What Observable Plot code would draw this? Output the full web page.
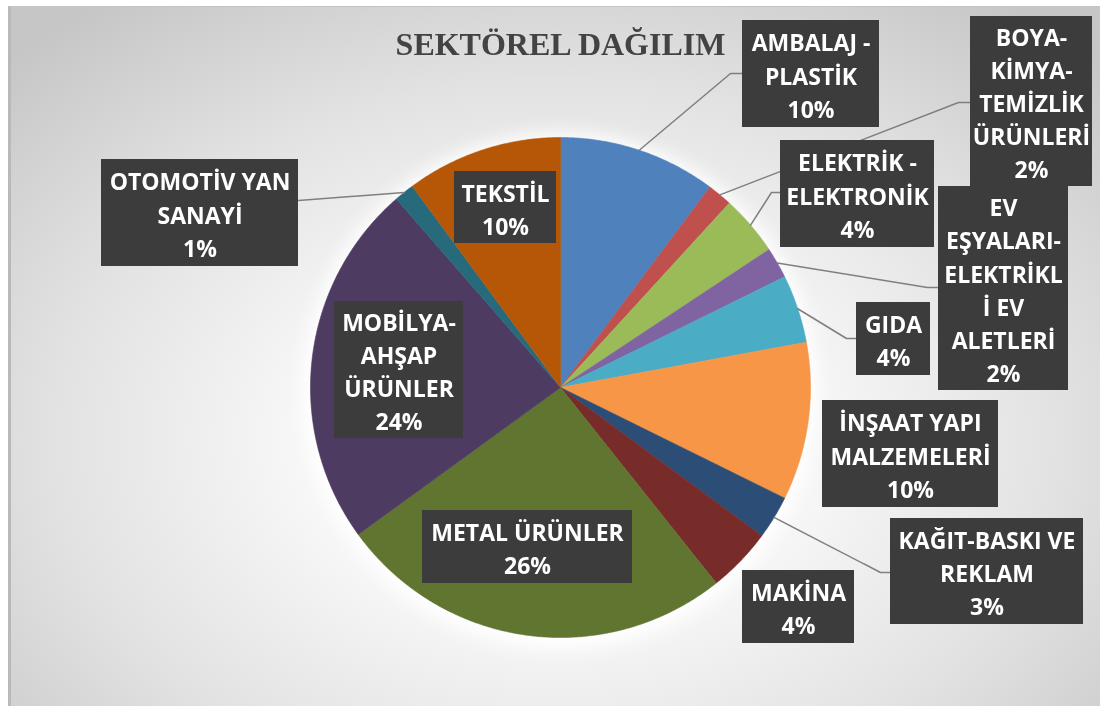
<!DOCTYPE html>
<html><head><meta charset="utf-8">
<script src="https://cdn.jsdelivr.net/npm/d3@7"></script>
<script src="https://cdn.jsdelivr.net/npm/@observablehq/plot@0.6"></script>
<style>
html,body{margin:0;padding:0;background:#fff;}
#wrap{position:relative;width:1105px;height:706px;overflow:hidden;}
#bg{position:absolute;left:8px;top:6px;width:1092px;height:700px;box-sizing:border-box;
  border-top:1px solid #c4c4c4;border-left:3px solid #b9b9b9;
  background:radial-gradient(ellipse 70% 78% at 50% 62%, #ffffff 0%, #f8f8f8 32%, #e2e2e2 66%, #c6c6c6 100%);}
#chart{position:absolute;left:0;top:0;}
</style></head>
<body><div id="wrap"><div id="bg"></div><div id="chart"></div></div>
<script>
// ---- data ----
const titleText = "SEKTÖREL DAĞILIM";
const sectors = [
  "AMBALAJ - PLASTİK", "BOYA-KİMYA-TEMİZLİK ÜRÜNLERİ", "ELEKTRİK - ELEKTRONİK",
  "EV EŞYALARI-ELEKTRİKLİ EV ALETLERİ", "GIDA", "İNŞAAT YAPI MALZEMELERİ",
  "KAĞIT-BASKI VE REKLAM", "MAKİNA", "METAL ÜRÜNLER", "MOBİLYA-AHŞAP ÜRÜNLER",
  "OTOMOTİV YAN SANAYİ", "TEKSTİL"
];
const shares = [10.2, 1.6, 3.9, 2.0, 4.4, 10.2, 2.8, 4.2, 25.7, 23.6, 1.3, 10.1];
const percentLabels = ["10%", "2%", "4%", "2%", "4%", "10%", "3%", "4%", "26%", "24%", "1%", "10%"];
const labelLines = [
  ["AMBALAJ -", "PLASTİK"],
  ["BOYA-", "KİMYA-", "TEMİZLİK", "ÜRÜNLERİ"],
  ["ELEKTRİK -", "ELEKTRONİK"],
  ["EV", "EŞYALARI-", "ELEKTRİKL", "İ EV", "ALETLERİ"],
  ["GIDA"],
  ["İNŞAAT YAPI", "MALZEMELERİ"],
  ["KAĞIT-BASKI VE", "REKLAM"],
  ["MAKİNA"],
  ["METAL ÜRÜNLER"],
  ["MOBİLYA-", "AHŞAP", "ÜRÜNLER"],
  ["OTOMOTİV YAN", "SANAYİ"],
  ["TEKSTİL"]
];
const colors = ["#4F81BD", "#C0504D", "#9BBB59", "#8064A2", "#4BACC6", "#F79646",
                "#2C4D75", "#772C2A", "#5F7530", "#4D3B62", "#276A7C", "#B65708"];

// ---- layout (in pie-radius units, pie centre = 0,0) ----
const boxLayout = [
  [0.728, 1.276, 1.04, 1.468],
  [1.64, 2.128, 0.804, 1.484],
  [0.88, 1.496, 0.56, 0.988],
  [1.512, 2.032, -0.012, 0.804],
  [1.184, 1.48, 0.048, 0.34],
  [1.048, 1.752, -0.48, -0.052],
  [1.32, 2.092, -0.948, -0.524],
  [0.728, 1.176, -1.024, -0.732],
  [-0.552, 0.288, -0.784, -0.492],
  [-0.904, -0.388, -0.204, 0.344],
  [-1.836, -1.048, 0.484, 0.912],
  [-0.424, -0.016, 0.576, 0.864]
];
// leader: slice index, elbow point, end point
const leaderLayout = [
  [0, [0.68, 1.256], [0.728, 1.256]],
  [1, [1.592, 1.14], [1.64, 1.14]],
  [2, [0.844, 0.78], [0.88, 0.78]],
  [3, [1.468, 0.4], [1.512, 0.4]],
  [4, [1.144, 0.196], [1.184, 0.196]],
  [6, [1.28, -0.74], [1.32, -0.74]],
  [10, null, [-1.048, 0.748]]
];

// ---- build slice polygons ----
const total = d3.sum(shares);
const slices = [];
const mids = [];
let acc = 0;
sectors.forEach((s, i) => {
  const a0 = acc / total * 2 * Math.PI;
  acc += shares[i];
  const a1 = acc / total * 2 * Math.PI;
  mids.push((a0 + a1) / 2);
  const pts = [{x: 0, y: 0}];
  const n = Math.max(2, Math.ceil((a1 - a0) / (Math.PI / 360)));
  for (let k = 0; k <= n; k++) {
    const a = a0 + (a1 - a0) * k / n;
    pts.push({x: Math.sin(a), y: Math.cos(a)});
  }
  pts.push({x: 0, y: 0});
  slices.push(pts);
});

const leaderPts = [];
leaderLayout.forEach(([i, elbow, end]) => {
  const a = mids[i];
  leaderPts.push({id: i, x: Math.sin(a), y: Math.cos(a)});
  if (elbow) leaderPts.push({id: i, x: elbow[0], y: elbow[1]});
  leaderPts.push({id: i, x: end[0], y: end[1]});
});

const boxes = sectors.map((s, i) => ({
  sector: s,
  x1: boxLayout[i][0], x2: boxLayout[i][1], y1: boxLayout[i][2], y2: boxLayout[i][3],
  text: [...labelLines[i], percentLabels[i]].join("\n")
}));

const sliceMarks = slices.map((pts, i) =>
  Plot.line(pts, {x: "x", y: "y", fill: colors[i], stroke: colors[i], strokeWidth: 0.6}));

const chart = Plot.plot({
  width: 1105, height: 706,
  marginTop: 0, marginRight: 0, marginBottom: 0, marginLeft: 0,
  x: {domain: [-2.24, 2.18], axis: null},
  y: {domain: [-1.276, 1.548], axis: null},
  style: {background: "transparent", overflow: "visible"},
  marks: [
    ...sliceMarks,
    Plot.line(leaderPts, {x: "x", y: "y", z: "id", stroke: "#7f7f7f", strokeWidth: 1.5}),
    Plot.rect(boxes, {x1: "x1", x2: "x2", y1: "y1", y2: "y2", fill: "#3c3c3c",
      ariaLabel: "label-boxes"}),
    Plot.text(boxes, {x: d => (d.x1 + d.x2) / 2, y: d => (d.y1 + d.y2) / 2, text: "text",
      fill: "#ffffff", fontSize: 23, fontWeight: "bold", fontFamily: "Open Sans",
      lineHeight: 1.44}),
    Plot.text([titleText], {x: () => 0, y: () => 1.372, text: d => d,
      fill: "#434343", fontSize: 32, fontWeight: "bold", fontFamily: "Liberation Serif"})
  ]
});

// group the slices so they share one soft white halo
const ns = "http://www.w3.org/2000/svg";
const lineGroups = chart.querySelectorAll('g[aria-label="line"]');
if (lineGroups.length >= slices.length) {
  const wrapG = document.createElementNS(ns, "g");
  wrapG.setAttribute("style", "filter:drop-shadow(0 0 10px #ffffff) drop-shadow(0 6px 10px rgba(255,255,255,0.9))");
  lineGroups[0].parentNode.insertBefore(wrapG, lineGroups[0]);
  for (let i = 0; i < slices.length; i++) wrapG.appendChild(lineGroups[i]);
}

// dotted texture and drop shadow for the label boxes
const defs = document.createElementNS(ns, "defs");
const pat = document.createElementNS(ns, "pattern");
pat.setAttribute("id", "dots"); pat.setAttribute("width", "7"); pat.setAttribute("height", "7");
pat.setAttribute("patternUnits", "userSpaceOnUse");
const pr = document.createElementNS(ns, "rect");
pr.setAttribute("width", "7"); pr.setAttribute("height", "7"); pr.setAttribute("fill", "#3c3c3c");
const pc = document.createElementNS(ns, "circle");
pc.setAttribute("cx", "3.5"); pc.setAttribute("cy", "3.5"); pc.setAttribute("r", "1.1"); pc.setAttribute("fill", "#575757");
pat.appendChild(pr); pat.appendChild(pc); defs.appendChild(pat);
chart.insertBefore(defs, chart.firstChild);
const bg = chart.querySelector('g[aria-label="label-boxes"]');
if (bg) {
  bg.setAttribute("fill", "url(#dots)");
  bg.querySelectorAll("rect").forEach(r =>
    r.setAttribute("style", "filter:drop-shadow(4px 5px 3px rgba(0,0,0,0.45))"));
}

document.getElementById("chart").appendChild(chart);
</script>
</body></html>
